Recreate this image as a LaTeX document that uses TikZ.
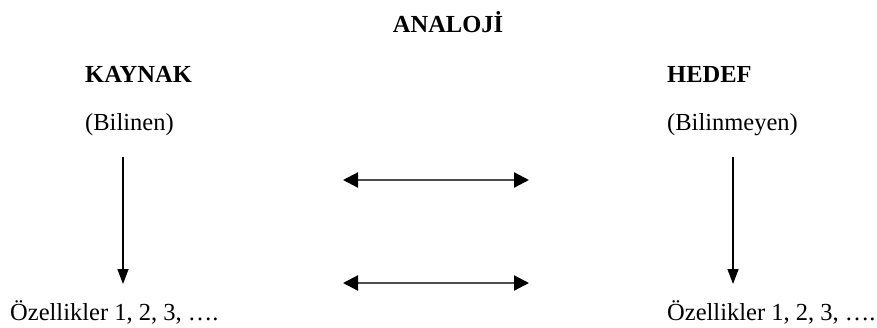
\documentclass[tikz,border=0pt]{standalone}
\usepackage{fontspec}
\setmainfont{Liberation Serif}
\usetikzlibrary{arrows.meta}
\begin{document}
\begin{tikzpicture}[x=1pt,y=1pt,
  lbl/.style={anchor=base west,inner sep=0pt,font=\fontsize{24.5}{29}\selectfont},
  ttl/.style={lbl,font=\fontsize{24.5}{29}\selectfont\bfseries},
  varrow/.style={line width=1.4pt,-{Triangle[length=15pt,width=11pt]}},
  harrow/.style={line width=2.2pt,draw=black!70,{Triangle[length=15pt,width=15pt,black]}-{Triangle[length=15pt,width=15pt,black]}}]
\useasboundingbox (0,0) rectangle (877,-327);
\node[ttl,anchor=base] (title) at (448,-32) {ANALOJİ};
\node[ttl] (kaynak) at (85,-82) {KAYNAK};
\node[lbl] (bilinen) at (85,-130) {(Bilinen)};
\node[ttl] (hedef) at (667,-82) {HEDEF};
\node[lbl] (bilinmeyen) at (667,-130) {(Bilinmeyen)};
\node[lbl] (ozl) at (10,-320) {Özellikler 1, 2, 3, ….};
\node[lbl] (ozr) at (667,-320) {Özellikler 1, 2, 3, ….};
\coordinate (ls) at (123,-157);
\coordinate (le) at (123,-284);
\coordinate (rs) at (733,-157);
\coordinate (re) at (733,-284);
\coordinate (h1a) at (343,-180);
\coordinate (h1b) at (529,-180);
\coordinate (h2a) at (343,-283);
\coordinate (h2b) at (529,-283);
\draw[varrow] (ls) -- (le);
\draw[varrow] (rs) -- (re);
\draw[harrow] (h1a) -- (h1b);
\draw[harrow] (h2a) -- (h2b);
\end{tikzpicture}
\end{document}
